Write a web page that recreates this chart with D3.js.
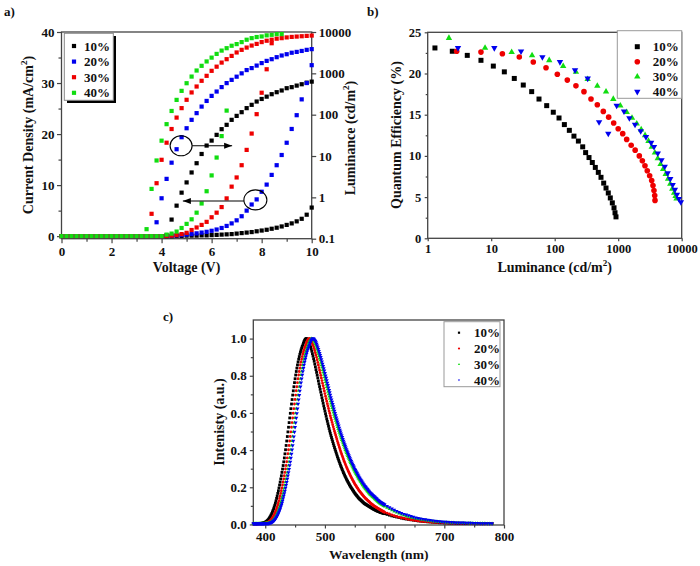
<!DOCTYPE html>
<html><head><meta charset="utf-8">
<script src="https://cdnjs.cloudflare.com/ajax/libs/d3/7.8.5/d3.min.js"></script>
<style>body{margin:0;background:#fff}svg{display:block}</style>
</head><body><svg id="c" width="700" height="566"></svg>
<script>
// ================= DATA =================
// ---- panel a: J-V-L ----
const voltage = [0,0.2,0.4,0.6,0.8,1,1.2,1.4,1.6,1.8,2,2.2,2.4,2.6,2.8,3,3.2,3.4,3.6,3.8,4,4.2,4.4,4.6,4.8,5,5.2,5.4,5.6,5.8,6,6.2,6.4,6.6,6.8,7,7.2,7.4,7.6,7.8,8,8.2,8.4,8.6,8.8,9,9.2,9.4,9.6,9.8,10];
const labelsA = ["10%","20%","30%","40%"];
const jBlack = [0,0,0,0,0,0,0,0,0,0,0,0,0,0,0,0,0,0,0,0,0,
  0,0,0.05,0.05,0.1,0.1,0.1,0.15,0.15,0.2,0.25,0.3,0.35,0.4,0.5,0.6,0.7,0.8,0.95,1.1,1.25,1.45,1.65,1.9,2.2,2.5,2.9,3.4,4.2,5.6];
const jBlue = [0,0,0,0,0,0,0,0,0,0,0,0,0,0,0,0,0,0,0,0,0,
  0.05,0.1,0.15,0.2,0.3,0.4,0.55,0.7,0.85,1.05,1.3,1.6,2.0,2.5,3.1,3.9,5.0,6.2,7.2,8.7,10.1,12.0,13.9,15.9,18.3,21.0,23.7,26.8,30.0,33.5];
const jRed = [0,0,0,0,0,0,0,0,0,0,0,0,0,0,0,0,0,0,0,0,0,
  0.05,0.1,0.2,0.4,0.65,1.2,1.7,2.2,2.8,3.7,4.6,5.7,7.4,9.7,11.5,13.9,16.9,20.1,23.9,28.1,32.7,37.8,
  null,null,null,null,null,null,null,null];
const jGreen = [0,0,0,0,0,0,0,0,0,0,0,0,0,0,0,0,0,0,0,0,0,
  0.3,0.5,0.9,1.6,2.4,3.3,4.6,6.4,8.8,11.9,15.4,19.6,24.6,
  null,null,null,null,null,null,null,null,null,null,null,null,null,null,null,null,null];
const lBlack = [null,null,null,null,null,null,null,null,null,null,null,null,null,null,null,null,null,null,null,null,null,
  0.12,0.29,0.63,1.3,2.3,4.0,6.7,11.2,17.9,23.6,32.5,44.6,56.8,75,93.5,115,144,173,208,240,273,313,350,385,437,463,505,545,595,630];
const lBlue = [null,null,null,null,null,null,null,null,null,null,null,null,null,null,null,null,null,null,null,
  0.25,0.95,2.8,6.9,14.6,28.5,47,75,109,157,215,285,363,465,580,695,830,1000,1200,1340,1540,1770,2000,2200,2460,2700,2900,3150,3300,3480,3700,3850];
const lRed = [null,null,null,null,null,null,null,null,null,null,null,null,null,null,null,null,null,null,
  0.40,2.2,8.1,21,45,85,144,229,345,480,660,870,1150,1450,1820,2200,2640,3200,3700,4200,4700,5150,5700,6150,6500,6900,7100,7400,7600,7750,7900,8050,8200];
const lGreen = [null,null,null,null,null,null,null,null,null,null,null,null,null,null,null,null,null,
  0.17,1.6,7.8,23.5,59,123,228,377,577,835,1170,1520,1940,2400,2950,3550,4060,4650,5100,5700,6500,7100,7550,7800,8300,8550,8900,8900,
  null,null,null,null,null,null];
const ticksAx = [0,2,4,6,8,10], ticksAJ = [0,10,20,30,40], ticksAL = [0.1,1,10,100,1000,10000];
const tickLabelsAL = ["0.1","1","10","100","1000","10000"];

// ---- panel b: EQE vs luminance ----
const labelsB = ["10%","20%","30%","40%"];
const bLum10 = [1.30,2.44,4.2,6.9,10.8,16.1,23.1,32,43.4,56.6,74.8,95,117,142,170,201,236,276,307,347,391,436,486,536,591,643,698,751,808,859,891,923];
const bEqe10 = [23.1,22.7,22.2,21.6,20.9,20.2,19.4,18.6,17.8,16.9,16.1,15.3,14.6,13.8,13.1,12.4,11.8,11.1,10.4,9.8,9.2,8.6,8.0,7.4,6.7,6.1,5.5,4.9,4.3,3.7,3.1,2.6];
const bLum20 = [2.86,6.9,15,27.7,46,73,110,158,216,289,373,469,583,708,849,1000,1178,1360,1600,1850,2150,2400,2640,2870,3130,3370,3530,3660,3760,3800];
const bEqe20 = [22.7,22.6,22.4,22.0,21.4,20.7,19.9,19.2,18.5,17.8,16.9,16.2,15.4,14.7,14.0,13.3,12.7,12.0,11.3,10.7,10.0,9.4,8.8,8.2,7.6,7.0,6.4,5.8,5.2,4.6];
const bLum30 = [2.16,8,21,44,82,136,216,330,469,643,837,1080,1360,1650,1960,2300,2650,3000,3380,3780,4200,4650,5100,5600,6100,6600,7100,7600,8000,8300];
const bEqe30 = [24.3,23.1,22.6,22.2,21.6,20.9,20.2,19.3,18.5,17.8,16.9,16.1,15.3,14.6,13.9,13.2,12.5,11.8,11.1,10.4,9.7,9.0,8.4,7.8,7.2,6.6,6.0,5.5,5.1,4.8];
const bLum40 = [3.0,11.2,29.5,64,121,209,331,500,698,946,1234,1500,1840,2260,2740,3300,3660,4200,4800,5400,6000,6600,7200,7800,8400,9000,9700];
const bEqe40 = [23.1,23.1,22.7,22.0,21.4,20.4,19.4,14.1,12.7,16.1,15.4,14.6,13.8,13.0,12.3,11.6,11.1,10.3,9.5,8.7,7.9,7.2,6.5,5.9,5.3,4.8,4.4];
const ticksBx = [1,10,100,1000,10000], ticksBy = [0,5,10,15,20,25];

// ---- panel c: EL spectra (1 nm 380-600, 4 nm 604-780) ----
const wavelength = d3.range(380, 601, 1).concat(d3.range(604, 781, 4));
const labelsC = ["10%","20%","30%","40%"];
const spec10 = [
 .004,.004,.004,.004,.004,.004,.004,.004,.005,.005,
 .005,.005,.006,.006,.006,.007,.007,.008,.009,.010,
 .012,.014,.016,.019,.022,.026,.030,.035,.040,.046,
 .052,.059,.067,.075,.084,.094,.104,.115,.127,.140,
 .153,.167,.181,.196,.212,.228,.245,.262,.280,.298,
 .317,.337,.358,.380,.402,.425,.449,.473,.498,.523,
 .548,.573,.598,.623,.648,.672,.696,.719,.741,.763,
 .784,.804,.823,.841,.858,.874,.889,.903,.916,.928,
 .939,.949,.958,.966,.976,.984,.991,.996,.999,1.000,
 .998,.994,.989,.982,.974,.965,.955,.944,.932,.919,
 .906,.892,.878,.863,.848,.833,.818,.803,.788,.772,
 .757,.742,.727,.712,.697,.682,.667,.652,.638,.624,
 .610,.596,.582,.568,.555,.542,.529,.516,.503,.491,
 .479,.468,.457,.446,.435,.424,.414,.404,.394,.384,
 .374,.364,.355,.346,.337,.328,.319,.311,.303,.295,
 .287,.279,.272,.265,.258,.251,.244,.238,.232,.226,
 .220,.214,.208,.203,.198,.193,.188,.183,.178,.173,
 .168,.164,.160,.156,.152,.148,.144,.140,.137,.134,
 .131,.128,.125,.122,.119,.116,.113,.111,.109,.107,
 .105,.103,.101,.099,.097,.095,.093,.091,.089,.087,
 .085,.083,.081,.080,.078,.076,.075,.073,.072,.070,
 .069,.068,.066,.065,.064,.063,.062,.061,.060,.059,
 .058,
 .054,.050,.046,.043,.040,.037,.034,.031,.029,.027,.025,.023,.021,.019,.018,.016,.015,.014,.013,.012,.011,.010,.009,.009,.008,
 .008,.007,.007,.007,.006,.006,.006,.006,.005,.005,
 .005,.005,.004,.004,.004,.004,.004,.004,.004,.004];
const spec20 = [
 .004,.004,.004,.004,.004,.004,.004,.004,.004,.004,
 .004,.004,.004,.005,.005,.005,.005,.006,.006,.006,
 .007,.007,.008,.009,.010,.012,.014,.016,.019,.022,
 .026,.030,.035,.040,.046,.052,.059,.067,.075,.084,
 .094,.104,.115,.127,.140,.153,.167,.181,.196,.212,
 .228,.245,.262,.280,.298,.317,.337,.358,.380,.402,
 .425,.449,.473,.498,.523,.548,.573,.598,.623,.648,
 .672,.696,.719,.741,.763,.784,.804,.823,.841,.858,
 .874,.889,.903,.916,.928,.939,.949,.958,.966,.976,
 .984,.991,.996,.999,1.000,.998,.994,.989,.982,.974,
 .966,.957,.947,.936,.924,.912,.899,.886,.872,.858,
 .844,.830,.816,.802,.788,.774,.760,.746,.732,.718,
 .704,.690,.676,.663,.650,.637,.624,.611,.598,.585,
 .573,.561,.549,.537,.525,.513,.502,.491,.480,.469,
 .458,.447,.437,.427,.417,.407,.397,.387,.378,.369,
 .360,.351,.342,.334,.326,.318,.310,.302,.295,.288,
 .281,.274,.267,.260,.254,.248,.242,.236,.230,.224,
 .218,.213,.208,.203,.198,.193,.188,.183,.179,.175,
 .171,.167,.163,.159,.155,.151,.147,.144,.140,.137,
 .134,.131,.128,.125,.122,.119,.116,.113,.110,.108,
 .105,.103,.100,.098,.096,.094,.092,.090,.088,.086,
 .084,.082,.080,.078,.076,.074,.072,.071,.069,.067,
 .066,
 .061,.056,.051,.047,.043,.039,.036,.033,.030,.027,.025,.023,.021,.019,.017,.016,.015,.014,.013,.012,.011,.010,.010,.009,.009,
 .008,.008,.008,.007,.007,.007,.006,.006,.006,.006,
 .005,.005,.005,.005,.005,.005,.005,.005,.005,.005];
const spec30 = [
 .004,.004,.004,.004,.004,.004,.004,.004,.004,.004,
 .004,.004,.004,.004,.004,.004,.004,.005,.005,.005,
 .005,.006,.006,.006,.007,.007,.008,.009,.010,.012,
 .014,.016,.019,.022,.026,.030,.035,.040,.046,.052,
 .059,.067,.075,.084,.094,.104,.115,.127,.140,.153,
 .167,.181,.196,.212,.228,.245,.262,.280,.298,.317,
 .337,.358,.380,.402,.425,.449,.473,.498,.523,.548,
 .573,.598,.623,.648,.672,.696,.719,.741,.763,.784,
 .804,.823,.841,.858,.874,.889,.903,.916,.928,.939,
 .949,.958,.966,.976,.984,.991,.996,.999,1.000,.998,
 .995,.991,.985,.978,.970,.961,.951,.941,.930,.919,
 .907,.895,.883,.870,.857,.844,.831,.818,.805,.792,
 .779,.766,.753,.740,.727,.714,.701,.688,.676,.663,
 .651,.639,.627,.615,.603,.591,.580,.569,.558,.547,
 .536,.525,.514,.504,.494,.484,.474,.464,.455,.446,
 .437,.428,.419,.410,.401,.393,.385,.377,.369,.361,
 .353,.345,.338,.331,.324,.317,.310,.303,.296,.290,
 .284,.278,.272,.266,.260,.254,.248,.243,.238,.233,
 .228,.223,.218,.213,.208,.203,.199,.195,.191,.187,
 .183,.179,.175,.171,.167,.163,.160,.157,.154,.151,
 .148,.145,.142,.139,.136,.133,.130,.127,.124,.121,
 .118,.115,.113,.111,.109,.107,.105,.103,.101,.099,
 .097,
 .090,.083,.076,.070,.064,.059,.054,.050,.046,.042,.038,.035,.032,.029,.027,.025,.023,.021,.019,.018,.016,.015,.014,.013,.012,
 .011,.011,.010,.010,.009,.009,.008,.008,.008,.007,
 .007,.007,.006,.006,.006,.006,.006,.005,.005,.005];
const spec40 = [
 .004,.004,.004,.004,.004,.004,.004,.004,.004,.004,
 .004,.004,.004,.004,.004,.004,.004,.004,.004,.005,
 .005,.005,.005,.006,.006,.006,.007,.007,.008,.009,
 .010,.012,.014,.016,.019,.022,.026,.030,.035,.040,
 .046,.052,.059,.067,.075,.084,.094,.104,.115,.127,
 .140,.153,.167,.181,.196,.212,.228,.245,.262,.280,
 .298,.317,.337,.358,.380,.402,.425,.449,.473,.498,
 .523,.548,.573,.598,.623,.648,.672,.696,.719,.741,
 .763,.784,.804,.823,.841,.858,.874,.889,.903,.916,
 .928,.939,.949,.958,.966,.976,.984,.991,.996,.999,
 1.000,.999,.996,.992,.986,.979,.971,.962,.953,.943,
 .933,.922,.911,.900,.888,.876,.864,.852,.840,.827,
 .814,.801,.788,.775,.762,.749,.736,.723,.710,.697,
 .684,.671,.659,.647,.635,.623,.611,.599,.587,.575,
 .564,.553,.542,.531,.520,.509,.499,.489,.479,.469,
 .459,.449,.440,.431,.422,.413,.404,.395,.387,.379,
 .371,.363,.355,.347,.340,.333,.326,.319,.312,.305,
 .298,.292,.286,.280,.274,.268,.262,.256,.250,.245,
 .240,.235,.230,.225,.220,.215,.210,.206,.202,.198,
 .194,.190,.186,.182,.178,.174,.170,.167,.164,.161,
 .158,.155,.152,.149,.146,.143,.140,.137,.134,.131,
 .128,.125,.122,.120,.118,.116,.114,.112,.110,.108,
 .106,
 .099,.092,.085,.078,.072,.066,.061,.056,.052,.048,.044,.040,.037,.034,.031,.029,.027,.025,.023,.021,.019,.018,.016,.015,.014,
 .013,.012,.012,.011,.010,.010,.009,.009,.008,.008,
 .008,.007,.007,.007,.006,.006,.006,.006,.006,.006];
const ticksCx = [400,500,600,700,800], ticksCy = [0,0.2,0.4,0.6,0.8,1.0];

// ================= DRAWING =================
const FONT = '"Liberation Serif","Times New Roman",serif';
const AX = "#444";
const C = {black:"#000000", blue:"#0000ee", red:"#ee0000", green:"#11dd11"};
const svg = d3.select("#c");

function shapePath(shape, s) {
  if (shape === "square") return `M${-s/2},${-s/2}h${s}v${s}h${-s}Z`;
  if (shape === "circle") return d3.symbol(d3.symbolCircle, Math.PI * (s/2) * (s/2))();
  const h = s * 0.866;
  if (shape === "tri") return `M0,${-2*h/3}L${s/2},${h/3}L${-s/2},${h/3}Z`;
  return `M0,${2*h/3}L${s/2},${-h/3}L${-s/2},${-h/3}Z`;
}
function drawPoints(pts, shape, size, color) {
  const d = shapePath(shape, size);
  svg.append("g").selectAll("path").data(pts).join("path")
    .attr("d", d).attr("fill", color)
    .attr("transform", p => `translate(${p[0]},${p[1]})`);
}
function addAxis(gen, transform, major, fmt, size, pad, minor, msize, fs) {
  const g = svg.append("g").attr("transform", transform)
    .call(gen.tickValues(major).tickFormat(fmt).tickSize(size).tickPadding(pad));
  g.attr("font-family", FONT).attr("font-size", fs || 12).attr("font-weight", "bold");
  g.select(".domain").remove();
  g.selectAll("line").attr("stroke", AX).attr("stroke-width", 1.2);
  g.selectAll("text").attr("fill", "#111");
  if (minor) {
    const m = svg.append("g").attr("transform", transform)
      .call(gen.tickValues(minor).tickFormat(() => "").tickSize(msize));
    m.select(".domain").remove();
    m.selectAll("line").attr("stroke", AX).attr("stroke-width", 1.2);
  }
}
function frame(x0, x1, y0, y1) {
  svg.append("rect").attr("x", x0).attr("y", y0).attr("width", x1 - x0).attr("height", y1 - y0)
    .attr("fill", "none").attr("stroke", AX).attr("stroke-width", 1.3);
}
function txt(x, y, s, fs, anchor, rot) {
  const t = svg.append("text").attr("font-family", FONT).attr("font-weight", "bold")
    .attr("font-size", fs).attr("fill", "#111").attr("text-anchor", anchor || "start");
  if (rot) t.attr("transform", `translate(${x},${y}) rotate(${rot})`);
  else t.attr("x", x).attr("y", y);
  if (s) t.text(s);
  return t;
}
function supTitle(t, before, sup, after, fs) {
  t.append("tspan").text(before);
  t.append("tspan").attr("dy", -fs*0.4).attr("font-size", fs*0.65).text(sup);
  t.append("tspan").attr("dy", fs*0.4).text(after);
}

// ---------- Panel a ----------
const xA = d3.scaleLinear().domain([0, 10]).range([61.5, 311.7]);
const yAJ = d3.scaleLinear().domain([-0.5, 40]).range([238.7, 32]);
const yAL = d3.scaleLog().domain([0.1, 10000]).range([238.7, 32]);
addAxis(d3.axisBottom(xA), "translate(0,238.7)", ticksAx, d3.format("d"), 4.5, 3.5, [1,3,5,7,9], 3, 13);
addAxis(d3.axisLeft(yAJ), "translate(61.5,0)", ticksAJ, d3.format("d"), 4.5, 2.5, [5,15,25,35], 3, 13);
addAxis(d3.axisRight(yAL), "translate(311.7,0)", ticksAL, (d, i) => tickLabelsAL[i], 4.5, 2.5, null, 0, 13);
frame(61.5, 311.7, 32, 238.7);

const seriesA = [
  {J: jBlack, L: lBlack, c: C.black},
  {J: jBlue,  L: lBlue,  c: C.blue},
  {J: jRed,   L: lRed,   c: C.red},
  {J: jGreen, L: lGreen, c: C.green}
];
seriesA.forEach(s => {
  const pj = [], pl = [];
  voltage.forEach((v, i) => {
    if (s.J[i] != null) pj.push([xA(v), yAJ(s.J[i])]);
    if (s.L[i] != null) pl.push([xA(v), yAL(s.L[i])]);
  });
  drawPoints(pj, "square", 4.2, s.c);
  drawPoints(pl, "square", 4.2, s.c);
});
// annotations (data coordinates)
function arrow(x1, x2, y) {
  svg.append("line").attr("x1", x1).attr("x2", x2).attr("y1", y).attr("y2", y)
    .attr("stroke", "#000").attr("stroke-width", 1.1);
  const dir = x2 > x1 ? 1 : -1;
  svg.append("path").attr("d", `M${x2},${y}L${x2 - dir*8},${y - 3}L${x2 - dir*8},${y + 3}Z`).attr("fill", "#000");
}
svg.append("ellipse").attr("cx", xA(4.78)).attr("cy", yAJ(17.7)).attr("rx", 11).attr("ry", 10)
  .attr("fill", "none").attr("stroke", "#000").attr("stroke-width", 1.1);
arrow(xA(5.22), xA(6.82), yAJ(17.7));
svg.append("ellipse").attr("cx", xA(7.75)).attr("cy", yAJ(7.1)).attr("rx", 11.5).attr("ry", 10)
  .attr("fill", "none").attr("stroke", "#000").attr("stroke-width", 1.1);
arrow(xA(7.3), xA(4.85), yAJ(6.9));
// legend a
svg.append("rect").attr("x", 67).attr("y", 36).attr("width", 49).attr("height", 67).attr("fill", "#000");
svg.append("rect").attr("x", 64.3).attr("y", 33.3).attr("width", 49).attr("height", 67)
  .attr("fill", "#fff").attr("stroke", "#888").attr("stroke-width", 1);
[C.black, C.blue, C.red, C.green].forEach((c, i) => {
  const yy = 46 + i * 15.6;
  drawPoints([[74, yy]], "square", 4.2, c);
  txt(84, yy + 4.5, labelsA[i], 13);
});
txt(4, 16, "a)", 13);
supTitle(txt(33, 135, "", 14, "middle", -90), "Current Density (mA/cm", "2", ")", 14);
supTitle(txt(355, 138, "", 14, "middle", -90), "Luminance (cd/m", "2", ")", 14);
txt(186.6, 271.5, "Voltage (V)", 14, "middle");

// ---------- Panel b ----------
const xB = d3.scaleLog().domain([1, 10000]).range([427.7, 681.7]);
const yB = d3.scaleLinear().domain([0, 25]).range([238.3, 32.3]);
addAxis(d3.axisBottom(xB), "translate(0,238.3)", ticksBx, d3.format("d"), 3, 2.5, null, 0, 12.5);
addAxis(d3.axisLeft(yB), "translate(427.7,0)", ticksBy, d3.format("d"), 3, 3.5, [2.5,7.5,12.5,17.5,22.5], 2, 12.5);
frame(427.7, 681.7, 32.3, 238.3);
const seriesB = [
  {x: bLum10, y: bEqe10, shape: "square", size: 5, c: C.black},
  {x: bLum20, y: bEqe20, shape: "circle", size: 5.6, c: C.red},
  {x: bLum30, y: bEqe30, shape: "tri", size: 6.4, c: C.green},
  {x: bLum40, y: bEqe40, shape: "tridown", size: 6.4, c: C.blue}
];
seriesB.forEach(s => drawPoints(s.x.map((v, i) => [xB(v), yB(s.y[i])]), s.shape, s.size, s.c));
svg.append("rect").attr("x", 617.3).attr("y", 30.7).attr("width", 64.4).attr("height", 67.6)
  .attr("fill", "#fff").attr("stroke", "#999").attr("stroke-width", 1);
seriesB.forEach((s, i) => {
  const yy = 46.7 + i * 15;
  drawPoints([[637.3, yy]], s.shape, s.size, s.c);
  txt(652.7, yy + 4.5, labelsB[i], 13);
});
txt(367, 16, "b)", 13);
txt(401, 135, "Quantum Efficiency (%)", 14, "middle", -90);
supTitle(txt(554.7, 272, "", 14, "middle"), "Luminance (cd/m", "2", ")", 14);

// ---------- Panel c ----------
const xC = d3.scaleLinear().domain([380, 800]).range([253.3, 504]);
const yC = d3.scaleLinear().domain([-0.003, 1.1]).range([525, 320]);
addAxis(d3.axisBottom(xC), "translate(0,525)", ticksCx, d3.format("d"), 3.5, 3.5, [450,550,650,750], 2.5, 13);
addAxis(d3.axisLeft(yC), "translate(253.3,0)", ticksCy, d3.format(".1f"), 3.5, 3, [0.1,0.3,0.5,0.7,0.9], 2.5, 13);
frame(253.3, 504, 320, 525);
const seriesC = [
  {y: spec10, shape: "square", size: 2.8, c: C.black},
  {y: spec20, shape: "circle", size: 2.9, c: C.red},
  {y: spec30, shape: "tri", size: 3.6, c: C.green},
  {y: spec40, shape: "tridown", size: 4.0, c: C.blue}
];
seriesC.forEach(s => {
  const n = Math.min(s.y.length, wavelength.length);
  drawPoints(d3.range(n).map(i => [xC(wavelength[i]), yC(s.y[i])]), s.shape, s.size, s.c);
});
svg.append("rect").attr("x", 444).attr("y", 321.7).attr("width", 56).attr("height", 65)
  .attr("fill", "#fff").attr("stroke", "#999").attr("stroke-width", 1);
seriesC.forEach((s, i) => {
  const yy = 332.7 + i * 15.8;
  drawPoints([[459, yy]], s.shape, 2.2, s.c);
  txt(474, yy + 4.5, labelsC[i], 13);
});
txt(163, 321, "c)", 13);
txt(224, 422, "Intenisty (a.u.)", 14, "middle", -90);
txt(378.7, 559, "Wavelength (nm)", 13.5, "middle");
</script></body></html>
